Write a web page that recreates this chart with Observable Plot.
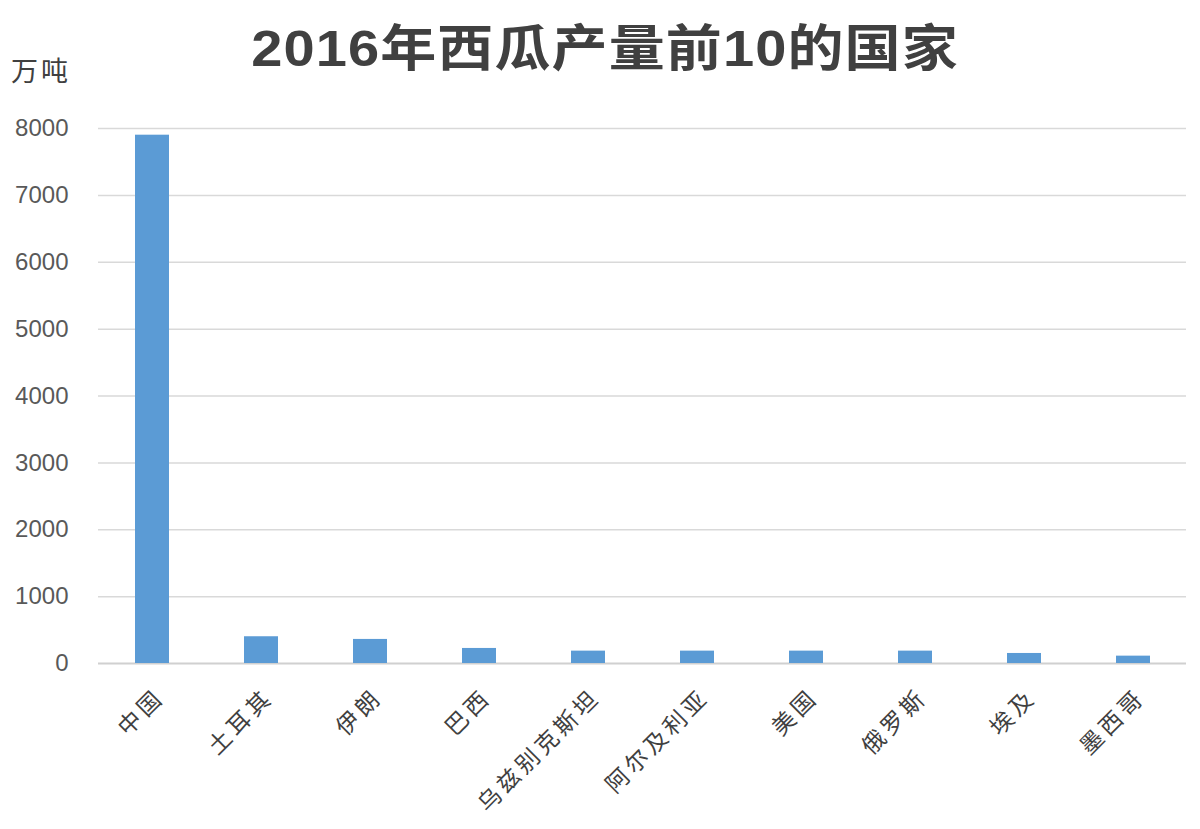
<!DOCTYPE html>
<html><head><meta charset="utf-8">
<script src="https://cdn.jsdelivr.net/npm/d3@7"></script>
<script src="https://cdn.jsdelivr.net/npm/@observablehq/plot@0.6"></script>
<style>
body{margin:0;background:#fff;font-family:"Liberation Sans","Noto Sans CJK SC",sans-serif;}
#wrap{position:relative;width:1200px;height:829px;overflow:hidden;}
#title{position:absolute;left:0;width:1210px;top:8px;text-align:center;font-size:50px;font-weight:bold;color:#404040;font-family:"Liberation Sans","Noto Sans CJK SC",sans-serif;transform:scaleX(1.12);transform-origin:605px 0;letter-spacing:1px;}
#unit{position:absolute;left:11px;top:50px;font-size:27px;color:#404040;font-family:"Noto Sans CJK SC",sans-serif;letter-spacing:3px;}
#chart{position:absolute;left:0;top:0;}
</style></head>
<body><div id="wrap"><div id="chart"></div><div id="title">2016年西瓜产量前10的国家</div><div id="unit">万吨</div></div>
<script>
const countries = ["中国","土耳其","伊朗","巴西","乌兹别克斯坦","阿尔及利亚","美国","俄罗斯","埃及","墨西哥"];
const production = [7900, 400, 360, 225, 185, 185, 185, 185, 150, 110];
const yTicks = [0,1000,2000,3000,4000,5000,6000,7000,8000];
const data = countries.map((c,i)=>({country:c, value:production[i]}));
const chart = Plot.plot({
  width:1200, height:829,
  marginLeft:98, marginRight:14, marginTop:128, marginBottom:166,
  style:{fontFamily:'"Liberation Sans","Noto Sans CJK SC",sans-serif', background:"#fff"},
  x:{domain:countries, paddingInner:0.69, paddingOuter:0.32, label:null},
  y:{domain:[0,8000], label:null},
  marks:[
    Plot.gridY(yTicks.filter(d=>d>0), {stroke:"#d9d9d9", strokeOpacity:1, strokeWidth:1.5}),
    Plot.ruleY([0], {stroke:"#d0d0d0", strokeWidth:2}),
    Plot.barY(data, {x:"country", y:"value", fill:"#5b9bd5"}),
    Plot.axisY({ticks:yTicks, tickSize:0, tickPadding:30, fontSize:24, fill:"#595959", tickFormat:d=>String(d), label:null}),
    Plot.axisX({tickSize:0, tickRotate:-45, tickPadding:30, dx:8, fontSize:23, fill:"#404040", label:null, fontFamily:'"Noto Sans CJK SC",sans-serif'})
  ]
});
d3.select(chart).selectAll('g[aria-label="x-axis tick label"] text').attr("letter-spacing","4px");
document.getElementById("chart").appendChild(chart);
</script></body></html>
